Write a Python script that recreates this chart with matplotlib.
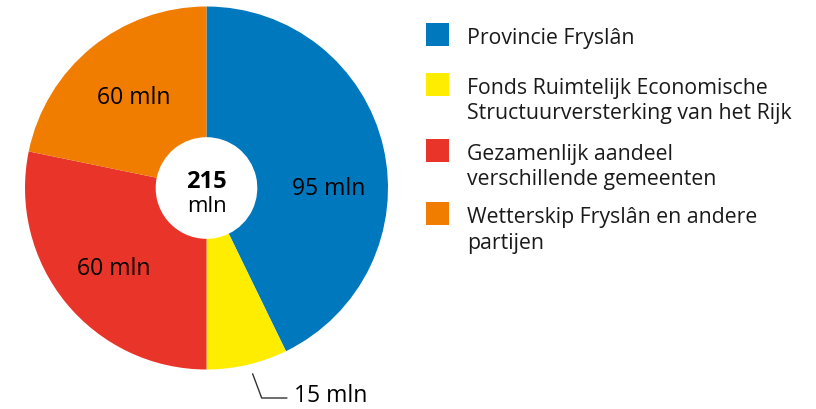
import matplotlib.pyplot as plt
from matplotlib.patches import Rectangle

plt.rcParams['font.family'] = ['Open Sans', 'DejaVu Sans']

# shares as drawn in the chart (sum 215), labels as printed
names = ['Provincie Fryslân',
         'Fonds Ruimtelijk Economische\nStructuurversterking van het Rijk',
         'Gezamenlijk aandeel\nverschillende gemeenten',
         'Wetterskip Fryslân en andere\npartijen']
shares = [92.0, 15.5, 60.7, 46.8]
labels = ['95 mln', '15 mln', '60 mln', '60 mln']
total_label = '215'
colors = ['#0078be', '#ffed00', '#e93529', '#f07c00']

W, H = 816, 410
fig = plt.figure(figsize=(W / 100, H / 100), dpi=100)

# pie: centre (206.5, 189) px, radius 181.5 px
cx, cy, R = 206.5, 189, 181.5
ax = fig.add_axes([(cx - R) / W, (H - cy - R) / H, 2 * R / W, 2 * R / H])
ax.pie(shares, colors=colors, startangle=90, counterclock=False, radius=1,
       wedgeprops=dict(width=0.72, linewidth=0))
ax.set_xlim(-1, 1)
ax.set_ylim(-1, 1)
ax.set_aspect('equal')
ax.axis('off')

def d(px, py):
    return (px - cx) / R, (cy - py) / R

ax.text(*d(329, 189), labels[0], ha='center', va='center', fontsize=16.5)
ax.text(*d(114, 269), labels[2], ha='center', va='center', fontsize=16.5)
ax.text(*d(134, 98), labels[3], ha='center', va='center', fontsize=16.5)
ax.text(*d(206.5, 182), total_label, ha='center', va='center', fontsize=17,
        fontweight='bold')
ax.text(*d(206.5, 207), 'mln', ha='center', va='center', fontsize=16)

# overlay in pixel coordinates for leader line and legend
ov = fig.add_axes([0, 0, 1, 1])
ov.set_xlim(0, W)
ov.set_ylim(H, 0)
ov.axis('off')

ov.plot([252.7, 261.7, 286.7], [375, 399, 399], color='#333333', lw=1)
ov.text(294, 396, labels[1], ha='left', va='center', fontsize=16.5)

sq_y = [35.3, 85.3, 151.3, 214.5]
for name, c, y in zip(names, colors, sq_y):
    ov.add_patch(Rectangle((426, y - 11.5), 23, 23, color=c, lw=0))
    for i, line in enumerate(name.split('\n')):
        ov.text(467, y + 8.8 + i * 25.3, line, ha='left', va='baseline',
                fontsize=15.3, color='#1a1a1a')

fig.savefig('out.png', dpi=100)
